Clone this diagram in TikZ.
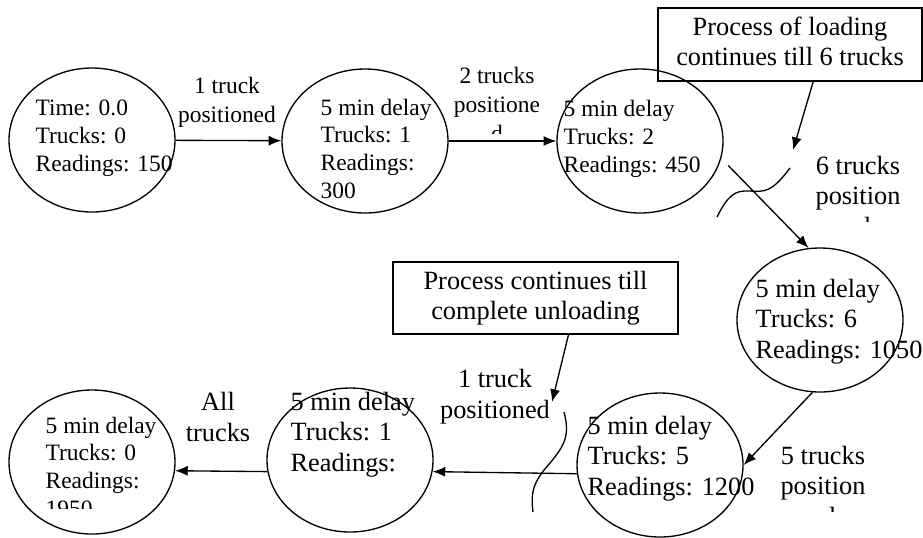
\documentclass[tikz,border=0pt]{standalone}
\usepackage{fontspec}
\setmainfont{Liberation Serif}
\usetikzlibrary{shapes.geometric,arrows.meta}

\begin{document}
\begin{tikzpicture}[x=0.75pt,y=-0.75pt,line width=1pt,
  >={Latex[length=9.5pt,width=7.5pt]},
  state/.style={draw,ellipse,minimum width=124.5pt,minimum height=108pt,inner sep=0pt},
  note/.style={draw,rectangle,align=center,inner sep=0pt,font=\fontsize{19.75}{22.5}\selectfont},
  smalltext/.style={align=left,anchor=base west,inner sep=0pt,font=\fontsize{17.6}{20.7}\selectfont},
  bigtext/.style={align=left,anchor=base west,inner sep=0pt,font=\fontsize{19.75}{22.8}\selectfont},
  smalllabel/.style={align=center,anchor=base,inner sep=0pt,font=\fontsize{17.6}{21.7}\selectfont},
  biglabel/.style={align=center,anchor=base,inner sep=0pt,font=\fontsize{19.75}{22.8}\selectfont}]
\useasboundingbox (0,0) rectangle (923,537);

\node[state] (s0) at (92,140) {};
\node[state] (s1) at (365,141) {};
\node[state] (s2) at (640,141) {};
\node[state] (s6) at (820,320) {};
\node[state] (s5) at (660,465) {};
\node[state] (s1b) at (350,460) {};
\node[state] (s0b) at (92,462) {};

\node[smalltext] (t0) at (35,171) {Time: 0.0\\Trucks: 0\\Readings: 150};
\node[smalltext] (t1) at (320,198) {5 min delay\\Trucks: 1\\Readings:\\300};
\node[smalltext] (t2) at (563,172) {5 min delay\\Trucks: 2\\Readings: 450};
\node[bigtext] (t6) at (755,358) {5 min delay\\Trucks: 6\\Readings: 1050};
\node[bigtext] (t5) at (587,495) {5 min delay\\Trucks: 5\\Readings: 1200};
\node[bigtext] (t1b) at (290,471) {5 min delay\\Trucks: 1\\Readings:};
\begin{scope}
\clip (0,0) rectangle (923,508);
\node[smalltext] (t0b) at (45,516) {5 min delay\\Trucks: 0\\Readings:\\1950};
\end{scope}

\node[note,minimum width=198pt,minimum height=54.75pt] (loadnote) at (790,44.5)
  {\strut Process of loading\\\strut continues till 6 trucks};
\node[note,minimum width=213.75pt,minimum height=54pt] (unloadnote) at (535.5,298)
  {\strut Process continues till\\\strut complete unloading};
\coordinate (loadtip) at (793,150);
\coordinate (unloadtip) at (552,402);

\node[smalllabel] (l01) at (227,122) {1 truck\\positioned};
\begin{scope}
\clip (0,0) rectangle (923,133);
\node[smalllabel] (l12) at (497,141) {2 trucks\\positione\\d};
\end{scope}
\begin{scope}
\clip (0,0) rectangle (923,221);
\node[biglabel] (l26) at (858,235) {6 trucks\\position\\ed};
\end{scope}
\begin{scope}
\clip (0,0) rectangle (923,511.5);
\node[biglabel] (l65) at (823,525) {5 trucks\\position\\ed};
\end{scope}
\node[biglabel] (l51) at (495,418) {1 truck\\positioned};
\node[biglabel] (l10) at (218,441) {All\\trucks};

\draw[->] (s0) -- (s1);
\draw[->] (s1) -- (s2);
\draw[->,shorten <=7.5pt] (s2.-12) -- (s6.99);
\draw[->] (s6.-96) -- (s5.east);
\draw[->] (s5.186) -- (s1b.-8);
\draw[->] (s1b.188) -- (s0b.-6);
\draw[->] (loadnote.-58) -- (loadtip);
\draw[->] (unloadnote.-48) -- (unloadtip);

\draw (717,217) .. controls (728,195) and (735,190) .. (750,191)
  .. controls (765,192) and (772,192) .. (790,168);
\draw (564,412) .. controls (570,435) and (565,445) .. (550,463)
  .. controls (535,480) and (530,490) .. (533,512);
\end{tikzpicture}
\end{document}
